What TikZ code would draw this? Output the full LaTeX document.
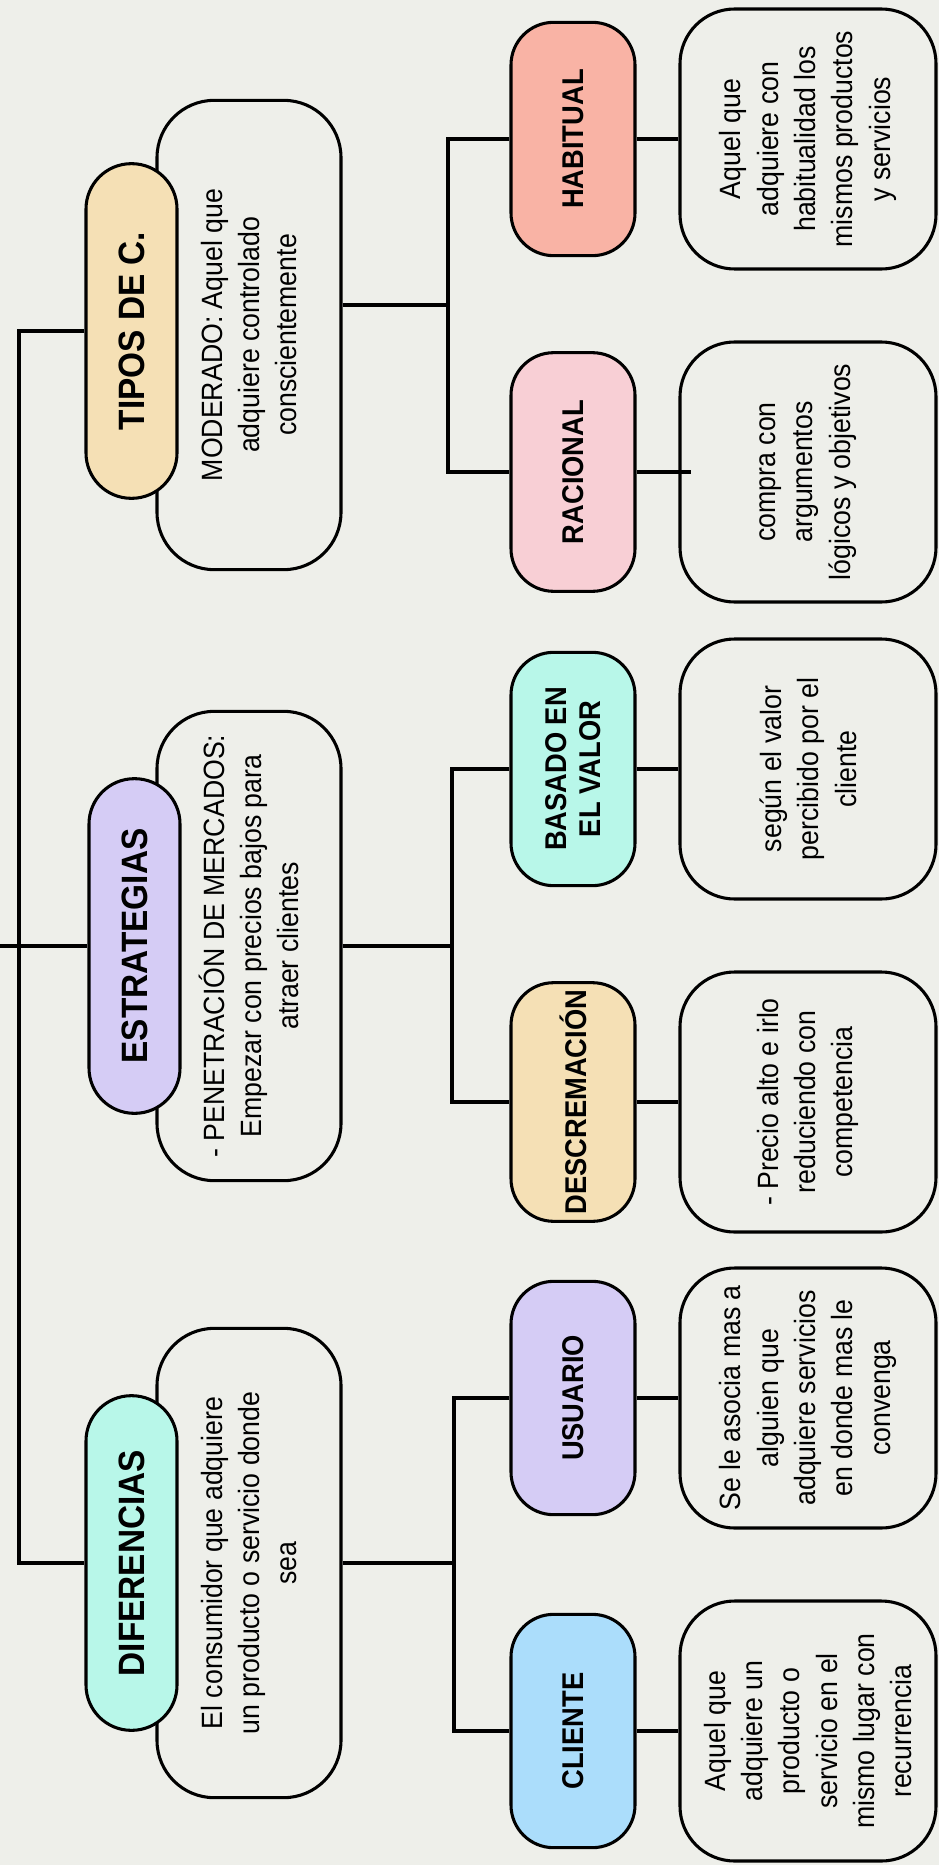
\documentclass[tikz,border=0pt]{standalone}
\usepackage{fontspec}
\setmainfont{Liberation Sans}[FakeStretch=0.91]
\definecolor{bg}{HTML}{EEEFEA}
\definecolor{tan}{HTML}{F5E0B5}
\definecolor{lav}{HTML}{D5CCF5}
\definecolor{mint}{HTML}{B8F7E9}
\definecolor{salmon}{HTML}{F9B3A5}
\definecolor{rosa}{HTML}{F8CFD5}
\definecolor{sky}{HTML}{ABDDFB}
\begin{document}
\begin{tikzpicture}[x=0.75pt,y=-0.75pt,
  base/.style={draw=black, line width=2.3pt, rotate=90, inner sep=0pt, align=center, text=black},
  pill/.style={base, minimum width=251pt, minimum height=68.25pt, rounded corners=34pt, font=\fontsize{27.5}{32}\selectfont\bfseries},
  bigd/.style={base, fill=bg, minimum width=352pt, minimum height=138pt, rounded corners=43pt, font=\fontsize{22}{28}\selectfont},
  lab/.style={base, minimum width=175pt, minimum height=93pt, rounded corners=32pt, font=\fontsize{22.5}{26}\selectfont\bfseries},
  smd/.style={base, fill=bg, minimum width=195pt, minimum height=192pt, rounded corners=41pt, font=\fontsize{22}{28}\selectfont},
  conn/.style={draw=black, line width=2.3pt}]
\fill[bg] (0,0) rectangle (939,1865);
\useasboundingbox (0,0) rectangle (939,1865);

% description boxes of the main branches
\node[bigd] (modd) at (249,335) {MODERADO: Aquel que\\adquiere controlado\\conscientemente};
\node[bigd] (estd) at (249,946) {- PENETRACIÓN DE MERCADOS:\\Empezar con precios bajos para\\atraer clientes};
\node[bigd] (difd) at (249,1563) {El consumidor que adquiere\\un producto o servicio donde\\sea};

% main pills
\node[pill, fill=tan] (tipos) at (131.5,331) {TIPOS DE C.};
\node[pill, fill=lav] (est) at (134.5,946) {ESTRATEGIAS};
\node[pill, fill=mint] (dif) at (131.5,1563) {DIFERENCIAS};

% sub labels
\node[lab, fill=salmon] (hab) at (573,139) {HABITUAL};
\node[lab, fill=rosa, minimum width=179pt] (rac) at (573,472) {RACIONAL};
\node[lab, fill=mint] (bas) at (573,769) {BASADO EN\\EL VALOR};
\node[lab, fill=tan, minimum width=179pt] (desc) at (573,1102) {DESCREMACIÓN};
\node[lab, fill=lav] (usu) at (573,1398) {USUARIO};
\node[lab, fill=sky] (cli) at (573,1731) {CLIENTE};

% sub descriptions
\node[smd] (habd) at (808,139) {Aquel que\\adquiere con\\habitualidad los\\mismos productos\\y servicios};
\node[smd] (racd) at (808,472) {compra con\\argumentos\\lógicos y objetivos};
\node[smd] (basd) at (808,769) {según el valor\\percibido por el\\cliente};
\node[smd] (descd) at (808,1102) {- Precio alto e irlo\\reduciendo con\\competencia};
\node[smd] (usud) at (808,1398) {Se le asocia mas a\\alguien que\\adquiere servicios\\en donde mas le\\convenga};
\node[smd] (clid) at (808,1731) {Aquel que\\adquiere un\\producto o\\servicio en el\\mismo lugar con\\recurrencia};

% spine
\coordinate (st) at (19,331);
\coordinate (sb) at (19,1563);
\coordinate (el) at (0,946);
\draw[conn] (tipos.north) -- (st) -- (sb) -- (dif.north);
\draw[conn] (el) -- (est.north);

% brackets
\coordinate (b1) at (448,305);
\coordinate (b2) at (452,946);
\coordinate (b3) at (454,1563);
\draw[conn] (modd.south |- b1) -- (b1);
\draw[conn] (hab.north) -| (b1) |- (rac.north);
\draw[conn] (estd.south |- b2) -- (b2);
\draw[conn] (bas.north) -| (b2) |- (desc.north);
\draw[conn] (difd.south |- b3) -- (b3);
\draw[conn] (usu.north) -| (b3) |- (cli.north);

% label to description
\draw[conn] (hab.south) -- (habd.north);
\draw[conn] (rac.south) -- ([xshift=9.75pt]racd.north);
\draw[conn] (bas.south) -- (basd.north);
\draw[conn] (desc.south) -- (descd.north);
\draw[conn] (usu.south) -- (usud.north);
\draw[conn] (cli.south) -- (clid.north);
\end{tikzpicture}
\end{document}
